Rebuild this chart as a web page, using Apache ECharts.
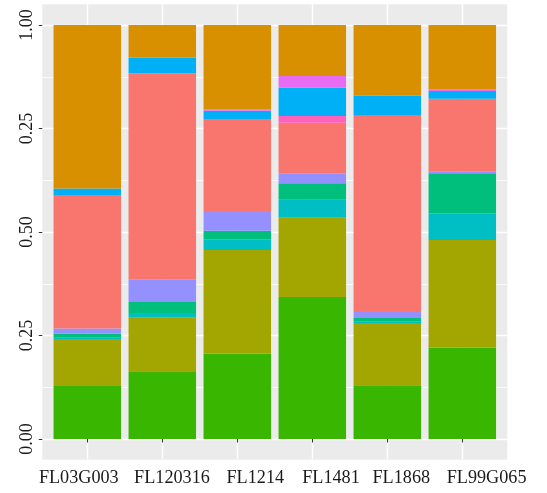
<!DOCTYPE html>
<html>
<head>
<meta charset="utf-8">
<script src="https://cdn.jsdelivr.net/npm/echarts@6/dist/echarts.min.js"></script>
<style>
  html, body { margin: 0; padding: 0; background: #fff; }
  #container { width: 547px; height: 493px; }
</style>
</head>
<body>
<div id="container"></div>
<script>
// categories on the x axis
var categories = ['FL03G003', 'FL120316', 'FL1214', 'FL1481', 'FL1868', 'FL99G065'];

// y tick positions and the labels as printed in the picture
var yTickValues = [0, 0.25, 0.5, 0.75, 1];
var yTickLabels = ['0.00', '0.25', '0.50', '0.25', '1.00'];

// proportions, stacked from bottom to top
var greenVals    = [0.128, 0.1635, 0.206, 0.343, 0.1297, 0.2205];
var oliveVals    = [0.1135, 0.1295, 0.2505, 0.1916, 0.1505, 0.2602];
var cyanVals     = [0.003, 0.0113, 0.0258, 0.0434, 0.0032, 0.0645];
var tealVals     = [0.0106, 0.0267, 0.0209, 0.0396, 0.0089, 0.0966];
var lavenderVals = [0.012, 0.0538, 0.0475, 0.0241, 0.0169, 0.0039];
var salmonVals   = [0.3204, 0.4985, 0.2223, 0.1223, 0.4718, 0.1763];
var pinkVals     = [0, 0, 0, 0.016, 0, 0];
var blueVals     = [0.0178, 0.0377, 0.02, 0.0686, 0.0483, 0.0186];
var magentaVals  = [0, 0, 0.0033, 0.0282, 0, 0.0041];
var orangeVals   = [0.3945, 0.079, 0.2037, 0.1232, 0.1707, 0.1553];

var layers = [
  { name: 'g1', data: greenVals, color: '#39B600' },
  { name: 'g2', data: oliveVals, color: '#A3A500' },
  { name: 'g3', data: cyanVals, color: '#00BFC4' },
  { name: 'g4', data: tealVals, color: '#00BF7D' },
  { name: 'g5', data: lavenderVals, color: '#9590FF' },
  { name: 'g6', data: salmonVals, color: '#F8766D' },
  { name: 'g7', data: pinkVals, color: '#FF62BC' },
  { name: 'g8', data: blueVals, color: '#00B0F6' },
  { name: 'g9', data: magentaVals, color: '#E76BF3' },
  { name: 'g10', data: orangeVals, color: '#D89000' }
];

var font = 'Liberation Serif';
var hidden = { axisLine: { show: false }, axisTick: { show: false }, axisLabel: { show: false } };

// the x labels in the picture sit a little off their ticks (px, + = right)
var labelShift = [-8.5, 9.7, 18, 18.7, 14, 24.3];
var labelRich = {};
labelShift.forEach(function (s, i) {
  labelRich['l' + i] = {
    fontFamily: font, fontSize: 18.2, color: '#1a1a1a',
    padding: [0, s < 0 ? -2 * s : 0, 0, s > 0 ? 2 * s : 0]
  };
});

var series = layers.map(function (l) {
  return {
    name: l.name,
    type: 'bar',
    stack: 'total',
    xAxisIndex: 0,
    yAxisIndex: 0,
    barWidth: '90%',
    itemStyle: { color: l.color },
    data: l.data
  };
});

var chart = echarts.init(document.getElementById('container'));
chart.setOption({
  animation: false,
  backgroundColor: '#fff',
  grid: [
    // data grid: category bands of the six bars
    { left: 49.8, right: 47.2, top: 25, bottom: 54 },
    // vertical grid lines (x = 1..6 are the category centres)
    { left: 12.3, right: 9.7, top: 4.3, bottom: 33.7 },
    // horizontal grid lines across the whole panel width
    { left: 42.3, right: 39.7, top: 25, bottom: 54 }
  ],
  xAxis: [{
    gridIndex: 0,
    type: 'category',
    data: categories,
    offset: 20.3,
    axisLine: { show: false },
    axisTick: { show: true, alignWithLabel: true, length: 3.5, lineStyle: { color: '#333', width: 1 } },
    axisLabel: {
      fontFamily: font, fontSize: 18.2, color: '#1a1a1a', margin: 9.5, interval: 0,
      formatter: function (v, i) { return '{l' + i + '|' + v + '}'; },
      rich: labelRich
    },
    splitLine: { show: false }
  }, Object.assign({
    gridIndex: 1,
    type: 'value',
    min: 0, max: 7, interval: 1,
    splitLine: { show: true, lineStyle: { color: '#fff', width: 1.4 } }
  }, hidden), Object.assign({
    gridIndex: 2,
    type: 'value',
    min: 0, max: 1,
    splitLine: { show: false }
  }, hidden)],
  yAxis: [{
    gridIndex: 0,
    type: 'value',
    min: 0, max: 1, interval: 0.25,
    offset: 7.5,
    axisLine: { show: false },
    axisTick: { show: true, length: 3.5, lineStyle: { color: '#333', width: 1 } },
    axisLabel: {
      rotate: 90,
      formatter: function (v) {
        var i = yTickValues.indexOf(Math.round(v * 100) / 100);
        return i >= 0 ? yTickLabels[i] : '';
      },
      fontFamily: font, fontSize: 18, color: '#1a1a1a', margin: 6
    },
    splitLine: { show: false }
  }, Object.assign({
    gridIndex: 1,
    type: 'value',
    min: 0, max: 1,
    splitLine: { show: false }
  }, hidden), Object.assign({
    gridIndex: 2,
    type: 'value',
    min: 0, max: 1, interval: 0.25,
    splitLine: { show: true, lineStyle: { color: '#fff', width: 1.4 } },
    minorTick: { show: false, splitNumber: 2 },
    minorSplitLine: { show: true, lineStyle: { color: '#fff', width: 0.7 } }
  }, hidden)],
  series: series
});

// grey panel behind the plot, sized from the axis scales (ggplot expansion)
var xl = chart.convertToPixel({ xAxisIndex: 1 }, 0.4);
var xr = chart.convertToPixel({ xAxisIndex: 1 }, 6.6);
var yb = chart.convertToPixel({ yAxisIndex: 2 }, -0.05);
var yt = chart.convertToPixel({ yAxisIndex: 2 }, 1.05);
chart.setOption({
  graphic: [{
    type: 'rect',
    z: -100,
    silent: true,
    shape: { x: xl, y: yt, width: xr - xl, height: yb - yt },
    style: { fill: '#EBEBEB' }
  }]
});
</script>
</body>
</html>
